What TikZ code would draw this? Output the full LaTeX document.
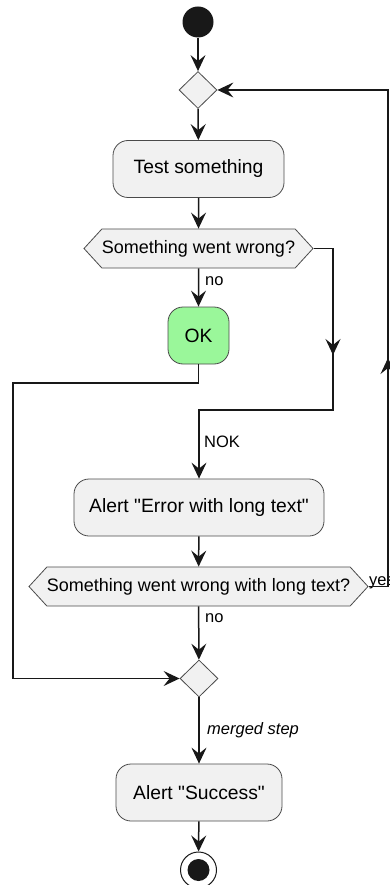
\documentclass[tikz,border=0pt]{standalone}
\usepackage{fontspec}
\setmainfont{Liberation Sans}[Ligatures=TeXOff]
\usetikzlibrary{arrows.meta,shapes.geometric,shapes.symbols}
\definecolor{edgec}{HTML}{181818}
\definecolor{boxfill}{HTML}{F1F1F1}
\definecolor{boxline}{HTML}{4A4A4A}
\definecolor{okfill}{HTML}{9AF79A}
\tikzset{
  arr/.style={draw=edgec, line width=1.5pt, -{Stealth[length=16pt,width=15pt,inset=6pt]}},
  line/.style={draw=edgec, line width=1.5pt},
  actbox/.style={rectangle, draw=boxline, line width=0.8pt, fill=boxfill, rounded corners=15pt,
    inner sep=0pt, minimum height=57pt, font=\fontsize{19.3}{22}\selectfont},
  hexa/.style={signal, signal to=west and east, signal pointer angle=95, draw=boxline, line width=0.8pt,
    fill=boxfill, inner sep=0pt, minimum height=39pt, font=\fontsize{18}{21}\selectfont},
  merge/.style={diamond, draw=boxline, line width=0.8pt, fill=boxfill, inner sep=0pt,
    minimum width=38pt, minimum height=37pt},
  lbl/.style={inner sep=0pt, font=\fontsize{16.5}{19}\selectfont}
}
\begin{document}
\begin{tikzpicture}[x=1pt,y=-1pt]
\useasboundingbox (0,0) rectangle (389,885);
% nodes
\node[circle, fill=edgec, minimum size=31pt, inner sep=0pt] (start) at (198,22) {};
\node[merge] (d1) at (198,90) {};
\node[actbox, minimum width=171pt] (test) at (198.5,169) {Test something};
\node[hexa, minimum width=229pt] (h1) at (198.5,248.5) {Something went wrong?};
\node[actbox, minimum width=61pt, fill=okfill] (ok) at (198.5,335.5) {OK};
\node[actbox, minimum width=250pt] (err) at (199,507.5) {Alert "Error with long text"};
\node[hexa, minimum width=339pt] (h2) at (198.5,586.5) {Something went wrong with long text?};
\node[merge] (d2) at (199,678.5) {};
\node[actbox, minimum width=166pt] (succ) at (199,792.5) {Alert "Success"};
\node[circle, draw=edgec, line width=1pt, fill=white, minimum size=36pt, inner sep=0pt] (stop) at (198.5,870) {};
\node[circle, fill=edgec, minimum size=22pt, inner sep=0pt] (stopin) at (198.5,870) {};
% labels
\node[lbl, anchor=west] (l1) at (205,281) {no};
\node[lbl, anchor=base west] (l2) at (204,447) {NOK};
\node[lbl, anchor=west] (l3) at (205,618) {no};
\node[lbl, anchor=base west, font=\fontsize{16.5}{19}\selectfont\itshape] (l4) at (207,734) {merged step};
\node[lbl, anchor=base west] (l5) at (369,585) {yes};
% coordinates
\coordinate (c1) at (333,248.5);
\coordinate (cm1) at (333,355);
\coordinate (c2) at (333,410);
\coordinate (c4) at (13,383);
\coordinate (c5) at (388,586.5);
\coordinate (cm2) at (388,358);
\coordinate (c6) at (388,90);
% edges
\draw[arr] (start) -- (d1);
\draw[arr] (d1) -- (test);
\draw[arr] (test) -- (h1);
\draw[arr] (h1) -- (ok);
\draw[arr] (h1.east) -| (c2) -| (err.north);
\draw[arr] (c1) -- (cm1);
\draw[arr] (ok.south) |- (c4) |- (d2.west);
\draw[arr] (err) -- (h2);
\draw[arr] (h2.east) -| (c6) -- (d1.east);
\draw[arr] (c5) -- (cm2);
\draw[arr] (h2) -- (d2);
\draw[arr] (d2) -- (succ);
\draw[arr] (succ) -- (stop);
\end{tikzpicture}
\end{document}
